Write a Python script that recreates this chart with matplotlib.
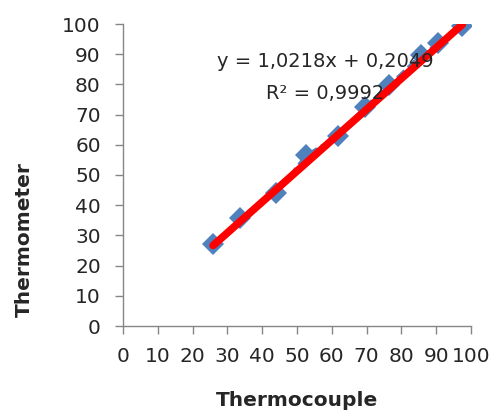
import numpy as np
import matplotlib
matplotlib.use('Agg')
import matplotlib.pyplot as plt


# Thermocouple vs thermometer readings
thermocouple = [25.9, 33.6, 44.0, 52.6, 61.9, 69.5, 76.5, 85.5, 90.6, 97.5]
thermometer = [27.0, 35.7, 44.1, 56.6, 63.0, 72.6, 79.8, 89.7, 93.6, 99.4]

# trendline shown on the chart
slope = 1.0218
intercept = 0.2049
r_squared = 0.9992

ticks = list(range(0, 101, 10))

TEXT = '#262626'
AXIS = '#868686'

plt.rcParams['font.family'] = ['DejaVu Sans']

fig = plt.figure(figsize=(4.91, 4.12), dpi=100)
ax = fig.add_axes([123 / 491, 86 / 412, 348 / 491, 302 / 412])

ax.plot(thermocouple, thermometer, color='#4F81BD', lw=2, linestyle='--',
        marker='D', markersize=11.5, markeredgewidth=0, zorder=2)

x_fit = np.array([min(thermocouple), max(thermocouple)])
ax.plot(x_fit, slope * x_fit + intercept, color='#FF0000', lw=5.5,
        solid_capstyle='round', zorder=3)

ax.set_xlim(0, 100)
ax.set_ylim(0, 100)
ax.set_xticks(ticks)
ax.set_yticks(ticks)

for side in ('top', 'right'):
    ax.spines[side].set_visible(False)
for side in ('left', 'bottom'):
    ax.spines[side].set_color(AXIS)
    ax.spines[side].set_linewidth(1)

ax.tick_params(axis='both', direction='out', length=6, width=1, color=AXIS,
               labelsize=14.5, labelcolor=TEXT)
ax.tick_params(axis='y', pad=10)
ax.tick_params(axis='x', pad=9)

ax.text(0.58, 0.875, f'y = {slope}x + {intercept}'.replace('.', ','),
        transform=ax.transAxes, ha='center', va='center', fontsize=14,
        color=TEXT, zorder=4)
ax.text(0.58, 0.77, f'R² = {r_squared}'.replace('.', ','),
        transform=ax.transAxes, ha='center', va='center', fontsize=14,
        color=TEXT, zorder=4)

fig.text(297 / 491, 1 - 401 / 412, 'Thermocouple', ha='center', va='center',
         fontsize=14.5, fontweight='bold', color=TEXT)
fig.text(24 / 491, 1 - 240 / 412, 'Thermometer', ha='center', va='center',
         rotation=90, fontsize=14.5, fontweight='bold', color=TEXT)

fig.savefig('out.png', dpi=100)
